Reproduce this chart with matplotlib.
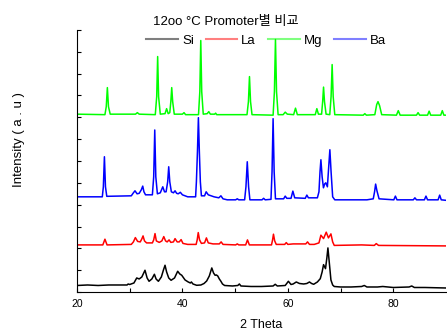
import matplotlib
matplotlib.use("Agg")
import matplotlib.pyplot as plt
import numpy as np
from matplotlib.lines import Line2D

# ---- data (2-theta vertices, intensity offsets in a.u.) ----
si_x = [20, 22, 24, 26, 28, 29.5, 29.7, 30.0, 30.8, 31.33, 31.8, 32.3, 32.9, 33.3, 33.67, 34.2, 34.68, 35.0,
        35.44, 36.0, 36.4, 36.7, 37.0, 37.4, 37.85, 38.5, 39.1, 39.5, 39.87, 40.5, 41.1, 41.5, 41.7, 42.0, 42.7,
        43.5, 44.1, 44.6, 45.1, 45.57, 45.9, 46.2, 46.45, 46.7, 47.0, 47.3, 47.6, 48.0, 49.5, 50.5, 50.8, 51.1,
        53, 55, 57.2, 57.6, 58.0, 59.5, 60.1, 60.6, 61.0, 61.6, 62.2, 63.0, 63.6, 64.1, 64.5, 64.9, 65.6, 66.15,
        66.5, 66.77, 67.14, 67.4, 67.6, 67.85, 68.17, 68.5, 68.8, 70, 72, 74, 74.5, 75, 77, 78, 80, 83, 83.5, 84,
        86, 90]
si_y = [6.5, 7, 6.5, 7, 7, 7, 8, 7.5, 9, 14, 13, 15, 21.7, 14, 10.7, 13, 17.7, 13,
        10.7, 15, 22, 26.7, 20, 14, 11.7, 14, 20.7, 18, 16.7, 12, 10, 9, 10, 8, 6.7,
        7, 8.5, 11, 16, 24, 19, 16.7, 17, 16, 13, 10.7, 8, 6.5, 6, 6.5, 8, 6,
        5.5, 5.5, 6, 7.7, 6, 6.5, 10.7, 7.5, 8, 10, 8.5, 8, 8.5, 10, 8.5, 7.7, 10, 13.3,
        20, 27.3, 23.3, 34, 44, 30, 12, 7, 5.5, 5, 5, 5.5, 6.5, 5, 5, 5.5, 4.5, 5, 6, 4.5,
        4.5, 4]

la_x = [20, 24.9, 25.3, 25.7, 30.3, 30.7, 31.07, 31.5, 32.0, 32.3, 32.53, 32.8, 33.2, 34.3, 34.55, 34.8, 35.05,
        35.6, 36.1, 36.46, 36.8, 37.1, 37.47, 37.8, 38.3, 38.6, 39.0, 39.4, 39.75, 40.1, 41.0, 42.6, 42.8, 43.0,
        43.25, 43.6, 44.2, 44.55, 44.9, 45.8, 47.0, 47.34, 47.7, 50.1, 50.4, 50.7, 52.0, 52.34, 52.7, 56.9, 57.1,
        57.27, 57.5, 57.8, 59.4, 59.7, 60.0, 61.0, 62.2, 63.4, 63.73, 64.1, 65.0, 65.9, 66.27, 66.77, 67.28, 67.7,
        68.17, 68.5, 68.8, 74.0, 76.4, 76.77, 77.2, 90]
la_y = [47, 47, 52.7, 47, 47.5, 50, 54.3, 50.5, 50, 53, 56, 51, 49, 49, 52, 58.3, 51,
        49.5, 51, 55.3, 51, 50, 52, 49.5, 50, 53.3, 50, 50, 52.3, 48.5, 47.5, 47.5, 52, 59.3,
        52, 48.5, 49, 54, 49, 48, 48, 50, 47.5, 47, 48, 47, 47, 52, 47, 47, 52,
        57.7, 51, 47.5, 47.5, 49.3, 47.5, 48, 48, 48, 50, 47.5, 47.5, 49, 56.7, 53.3, 59.7, 54,
        58, 50, 46.5, 47, 46.5, 48.3, 46.5, 46]

mg_x = [20, 25.3, 25.55, 25.76, 25.97, 26.3, 31.1, 31.45, 31.8, 34.85, 35.12, 35.3, 35.48, 35.8, 36.7, 37.0,
        37.3, 37.6, 37.8, 37.97, 38.15, 38.45, 40.0, 40.3, 40.6, 43.05, 43.3, 43.48, 43.66, 43.95, 44.7, 45.0,
        45.3, 46.1, 46.3, 46.5, 52.25, 52.52, 52.72, 52.92, 53.2, 57.2, 57.45, 57.65, 57.85, 58.15, 59.1, 59.5,
        59.9, 61.1, 61.45, 61.8, 65.2, 65.5, 65.8, 66.4, 66.6, 66.77, 66.95, 67.25, 67.95, 68.2, 68.4, 68.6, 68.9,
        74.3, 74.6, 74.9, 76.5, 76.85, 77.1, 77.4, 77.8, 80.6, 80.95, 81.3, 84.4, 84.7, 85.0, 86.5, 86.8, 87.1,
        89.0, 89.3, 89.6, 90]
mg_y = [177.5, 177, 185, 204, 185, 177.5, 177.5, 179, 177.5, 177, 195, 235, 195, 177.5, 178, 183,
        178, 179, 190, 204, 190, 177.5, 177.5, 179, 177, 177, 200, 251, 200, 177.5, 178, 180,
        177.5, 177.5, 178.5, 177, 177, 190, 215, 190, 177, 176.5, 200, 252, 200, 177, 177, 179.5,
        177.5, 177, 183.5, 177, 177, 183, 177.5, 177.5, 190, 204.5, 190, 177.5, 177, 195, 227, 195, 177,
        176.5, 178, 176.5, 177, 187, 190, 186, 177, 176.5, 181, 176.5, 176.5, 179, 176.5, 176.5, 180.5, 176.5,
        176.5, 181, 176.5, 176.5]

ba_x = [20, 24.8, 25.0, 25.2, 25.4, 25.65, 30.3, 30.7, 31.0, 31.4, 31.8, 32.2, 32.47, 32.7, 33.0, 34.3, 34.55,
        34.75, 34.95, 35.25, 35.8, 36.27, 36.6, 36.9, 37.2, 37.4, 37.6, 37.9, 38.3, 38.6, 38.9, 39.2, 39.6, 40.0,
        41.0, 42.5, 42.65, 42.85, 43.03, 43.21, 43.4, 43.6, 44.2, 44.5, 44.9, 46.0, 46.9, 47.3, 47.7, 48.5, 50.1,
        50.4, 50.7, 51.8, 52.05, 52.3, 52.55, 52.8, 55.1, 55.4, 55.7, 56.8, 57.0, 57.2, 57.4, 57.65, 59.2, 59.5,
        59.8, 60.6, 60.95, 61.3, 63.3, 63.6, 63.9, 65.6, 65.9, 66.1, 66.27, 66.5, 66.75, 67.0, 67.2, 67.5, 67.75,
        67.97, 68.2, 68.5, 68.9, 75.0, 76.2, 76.45, 76.65, 76.9, 77.3, 80.1, 80.4, 80.7, 83.8, 84.1, 84.4, 85.9,
        86.2, 86.5, 88.5, 88.8, 89.1, 90]
ba_y = [95, 95, 105, 135, 105, 95.5, 96, 99, 101, 98, 98.5, 102, 105.7, 100, 97, 97, 115,
        161.7, 115, 98, 99, 105, 100, 100, 110, 125, 110, 100, 99, 101, 98.5, 98, 99.5, 97,
        95, 95, 110, 140, 174, 140, 110, 96, 96, 100, 97, 95, 94, 96, 93, 92, 92,
        93, 92, 92, 105, 130, 105, 92, 92, 93.5, 92, 92.5, 120, 173, 120, 93, 93, 95.7,
        93.5, 93.5, 100.7, 94, 93.5, 96.7, 94, 94, 100, 120, 132, 115, 104, 108, 109, 105, 125,
        142, 120, 95, 92, 92, 93, 100, 107.7, 101, 93, 92, 95.7, 92, 92, 94, 92, 92,
        95.7, 92, 92, 96.7, 92, 91.5]

series_names = ["Si", "La", "Mg", "Ba"]
series_colors = ["#000000", "#ff0000", "#00ff00", "#0000ff"]
series_x = [si_x, la_x, mg_x, ba_x]
series_y = [si_y, la_y, mg_y, ba_y]

xticks_major = [20, 40, 60, 80]
xticks_minor = [30, 50, 70]

plt.rcParams['font.family'] = ['Liberation Sans', 'Noto Sans CJK KR', 'DejaVu Sans']

fig = plt.figure(figsize=(4.47, 3.32), dpi=100)
ax = fig.add_axes([77/447, 1-292/332, (446-77)/447, (292-30)/332])

for xs, ys, c in zip(series_x, series_y, series_colors):
    ax.plot(xs, ys, color=c, lw=1.1)

ax.set_xlim(20, 90)
ax.set_ylim(0, 261.5)
ax.spines['top'].set_visible(False)
ax.spines['right'].set_visible(False)
ax.set_xticks(xticks_major)
ax.set_xticks(xticks_minor, minor=True)
ax.set_yticks(np.linspace(0, 261.5, 13))
ax.set_yticklabels([])
ax.tick_params(axis='both', which='both', direction='in', length=3, width=0.8, labelsize=7.5)
ax.tick_params(axis='x', pad=5)

fig.text(226/447, 1-22/332, "12oo °C Promoter별 비교", ha='center', va='center', fontsize=9.5)
fig.text(261/447, 1-325/332, "2 Theta", ha='center', va='center', fontsize=9)
fig.text(19/447, 1-140/332, "Intensity ( a . u )", ha='center', va='center', rotation=90, fontsize=9.5)

handles = [Line2D([], [], color=c, lw=1.5, alpha=0.5) for c in series_colors]
fig.legend(handles, series_names, loc='center', bbox_to_anchor=(266/447, 1-41/332), ncol=4,
           frameon=False, fontsize=9.5, handlelength=2.4, handletextpad=0.3, columnspacing=0.9,
           borderpad=0, borderaxespad=0)

fig.savefig("out.png", dpi=100)
